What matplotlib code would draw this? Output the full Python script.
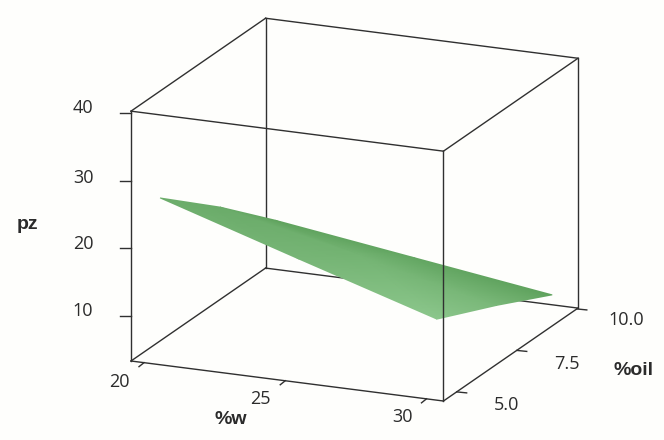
#!/usr/bin/env python3
"""Surface plot of pz against %w and %oil, boxed like a Minitab 3D chart."""
import matplotlib
matplotlib.use("Agg")
import matplotlib.pyplot as plt
from matplotlib.colors import LinearSegmentedColormap
from matplotlib.tri import Triangulation
from mpl_toolkits.mplot3d import proj3d

W_GRID = [20.1, 25, 29.9]
OIL_GRID = [5.0, 7.5, 9.8]
PZ = [[26.4, 20.0, 13.7],
      [18.9, 14.6, 9.6],
      [11.3, 8.4, 5.5]]
SHADE = [[0.30, 0.55, 1.00],
         [0.25, 0.45, 0.60],
         [0.00, 0.10, 0.00]]

W_TICKS = [20, 25, 30]
OIL_TICKS = [5.0, 7.5, 10.0]
PZ_TICKS = [10, 20, 30, 40]
W_LIM = (19.54, 30.6)
OIL_LIM = (4.45, 10.05)
PZ_LIM = (3.3, 40.3)

BG = "#fefefc"
LINE = "#303030"
TEXT = "#2b2b2b"
FONT = "Open Sans"
W, H = 664, 440

plt.rcParams["font.family"] = FONT
fig = plt.figure(figsize=(W / 100, H / 100), dpi=100, facecolor=BG)

ax = fig.add_axes([0.1, 0.1, 0.6, 0.6], projection="3d", proj_type="ortho",
                  facecolor="none")
ax.set_xlim(*W_LIM)
ax.set_ylim(*OIL_LIM)
ax.set_zlim(*PZ_LIM)
ax.set_box_aspect((1.3, 1.3, 1.0))
ax.view_init(elev=17.3, azim=-66.7)
ax.set_axis_off()


def to_px(w, oil, z):
    x2, y2, _ = proj3d.proj_transform(w, oil, z, ax.get_proj())
    return ax.transData.transform((x2, y2))


# fit the axes so the box lands on the reference corners
ax.apply_aspect()
left = to_px(W_LIM[0], OIL_LIM[0], PZ_LIM[0])
right = to_px(W_LIM[1], OIL_LIM[1], PZ_LIM[0])
size = 0.6 * H * 447 / (right[0] - left[0])
pos = [0.1 * W, 0.1 * H]
ax.set_position([pos[0] / W, pos[1] / H, size / W, size / H])
ax.apply_aspect()
left = to_px(W_LIM[0], OIL_LIM[0], PZ_LIM[0])
pos = [pos[0] + 131 - left[0], pos[1] + (H - 361) - left[1]]
ax.set_position([pos[0] / W, pos[1] / H, size / W, size / H])
ax.apply_aspect()

w0, w1 = W_LIM
o0, o1 = OIL_LIM
z0, z1 = PZ_LIM

# edges that sit behind the surface
back_edges = [
    ((w0, o0, z0), (w1, o0, z0)),
    ((w0, o0, z0), (w0, o1, z0)),
    ((w0, o1, z0), (w1, o1, z0)),
    ((w1, o0, z0), (w1, o1, z0)),
    ((w0, o1, z0), (w0, o1, z1)),
    ((w1, o1, z0), (w1, o1, z1)),
    ((w0, o0, z0), (w0, o0, z1)),
    ((w0, o1, z1), (w1, o1, z1)),
    ((w0, o0, z1), (w0, o1, z1)),
    ((w1, o0, z1), (w1, o1, z1)),
    ((w0, o0, z1), (w1, o0, z1)),
]
for a, b in back_edges:
    ax.plot(*zip(a, b), color=LINE, lw=1.0)

over = fig.add_axes([0, 0, 1, 1], facecolor="none")
over.set_xlim(0, W)
over.set_ylim(0, H)
over.axis("off")

# surface, smooth shaded between the read-off grid nodes
xs, ys, cs = [], [], []
for j, oil in enumerate(OIL_GRID):
    for i, w in enumerate(W_GRID):
        px = to_px(w, oil, PZ[j][i])
        xs.append(px[0])
        ys.append(px[1])
        cs.append(SHADE[j][i])
n = len(W_GRID)
tris = []
for j in range(len(OIL_GRID) - 1):
    for i in range(n - 1):
        a = j * n + i
        tris += [[a, a + 1, a + n], [a + 1, a + n + 1, a + n]]
greens = LinearSegmentedColormap.from_list("g", ["#5fa25d", "#8cc78c"])
over.tripcolor(Triangulation(xs, ys, tris), cs, shading="gouraud",
               cmap=greens, vmin=0, vmax=1)

# front vertical goes over the surface
p, q = to_px(w1, o0, z0), to_px(w1, o0, z1)
over.plot([p[0], q[0]], [p[1], q[1]], color=LINE, lw=1.0)

# ticks and labels
for v, (dx, dy) in zip(PZ_TICKS, [(-48, 5), (-48, 4), (-48, 3), (-48, 5)]):
    p = to_px(w0, o0, v)
    over.plot([p[0] - 11, p[0]], [p[1], p[1]], color=LINE, lw=1.0)
    over.annotate(str(v), p, xytext=(dx, dy), textcoords="offset pixels",
                  ha="center", va="center", fontsize=13, color=TEXT)
for v, (dx, dy) in zip(W_TICKS, [(-25, -19), (-25, -18), (-24, -18)]):
    p = to_px(v, o0, z0)
    over.plot([p[0] - 5, p[0]], [p[1] - 4, p[1]], color=LINE, lw=1.0)
    over.annotate(str(v), p, xytext=(dx, dy), textcoords="offset pixels",
                  ha="center", va="center", fontsize=13, color=TEXT)
for v, (dx, dy) in zip(OIL_TICKS, [(50, -13), (50, -14), (49, -11)]):
    p = to_px(w1, v, z0)
    over.plot([p[0], p[0] + 10], [p[1], p[1] - 1], color=LINE, lw=1.0)
    over.annotate(f"{v:.1f}", p, xytext=(dx, dy), textcoords="offset pixels",
                  ha="center", va="center", fontsize=13, color=TEXT)

for label, x, y in [("pz", 28, 224), ("%w", 231, 419), ("%oil", 633, 370)]:
    over.text(x, H - y, label, ha="center", va="center", fontsize=14,
              family="Liberation Sans", fontweight="bold", color=TEXT)

fig.savefig("out.png", dpi=100, facecolor=BG)
